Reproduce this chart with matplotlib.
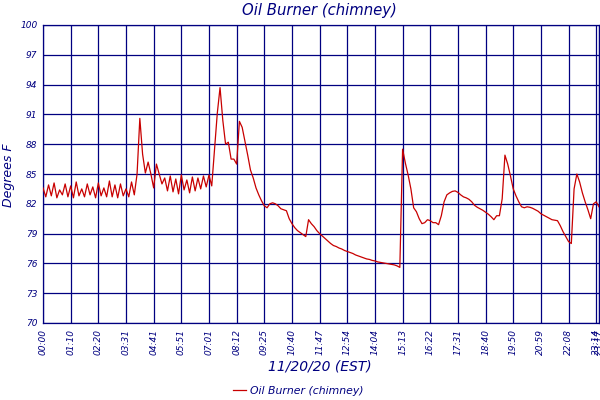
import matplotlib
matplotlib.use('Agg')
import matplotlib.pyplot as plt
import numpy as np

plt.rcParams['font.family'] = 'DejaVu Sans'
plt.rcParams['font.style'] = 'italic'

NAVY = '#000080'
RED = '#c80000'

# one reading per sample, labels every 10 samples + the last one
temps = [
    83.6, 82.7, 83.9, 82.8, 84.1, 82.6, 83.4, 82.9, 84.0, 82.7,
    83.8, 82.6, 84.2, 82.8, 83.5, 82.7, 84.0, 82.9, 83.7, 82.6,
    84.1, 82.8, 83.6, 82.7, 84.3, 82.7, 83.9, 82.6, 84.0, 82.8,
    83.5, 82.7, 84.2, 82.9,
    85.0, 90.6, 87.0, 85.1, 86.2, 85.0, 83.6, 86.0, 85.0, 84.0,
    84.6, 83.3, 84.8, 83.2, 84.5, 83.0, 84.9, 83.4, 84.4, 83.1,
    84.7, 83.3, 84.6, 83.5, 84.8, 83.7, 84.9,
    83.8, 87.4, 91.1, 93.7, 90.4, 88.0, 88.2, 86.5, 86.5, 86.0,
    90.3, 89.7, 88.3, 86.9, 85.4, 84.6, 83.6, 82.9, 82.3, 81.8,
    81.6, 82.0, 82.1, 82.0, 81.8, 81.5, 81.4, 81.3, 80.5, 80.0,
    79.6, 79.3, 79.1, 78.9, 78.7, 80.4, 80.0, 79.7, 79.3, 79.0,
    78.75, 78.5, 78.25, 78.0, 77.8, 77.7, 77.55, 77.45, 77.3, 77.2,
    77.1, 77.0, 76.85, 76.75, 76.65, 76.55, 76.45, 76.4, 76.3, 76.25,
    76.15, 76.1, 76.05, 76.0, 75.95, 75.9, 75.85, 75.75, 75.6, 87.5,
    86.1, 84.9, 83.5, 81.6, 81.2, 80.5, 80.0, 80.1, 80.4, 80.3,
    80.1, 80.1, 79.9, 80.8, 82.2, 82.9, 83.1, 83.25, 83.3, 83.15,
    82.9, 82.7, 82.6, 82.45, 82.2, 81.85, 81.65, 81.5, 81.35, 81.15,
    80.95, 80.7, 80.4, 80.8, 80.8, 82.5, 86.9, 86.0, 84.8, 83.5,
    82.8, 82.2, 81.7, 81.6, 81.7, 81.65, 81.55, 81.4, 81.25, 81.0,
    80.85, 80.7, 80.55, 80.4, 80.35, 80.3, 79.8, 79.2, 78.7, 78.2,
    78.0, 83.5, 85.0, 84.2, 83.1, 82.2, 81.4, 80.5, 82.0, 82.2, 81.7,
]

time_labels = ['00:00', '01:10', '02:20', '03:31', '04:41', '05:51', '07:01',
               '08:12', '09:25', '10:40', '11:47', '12:54', '14:04', '15:13',
               '16:22', '17:31', '18:40', '19:50', '20:59', '22:08', '23:14',
               '23:17']
y_ticks = [70, 73, 76, 79, 82, 85, 88, 91, 94, 97, 100]

x = np.arange(len(temps))
tick_pos = list(range(0, len(temps), 10)) + [len(temps) - 1]

fig = plt.figure(figsize=(6, 4), dpi=100)
fig.patch.set_facecolor('white')
ax = fig.add_axes([0.0717, 0.1925, 0.9266, 0.745])

ax.plot(x, temps, color=RED, linewidth=0.9, label='Oil Burner (chimney)', zorder=3)

ax.set_xlim(0, len(temps) - 1)
ax.set_ylim(70, 100)
ax.set_xticks(tick_pos)
ax.set_xticklabels(time_labels, rotation=90, fontsize=6.5, color=NAVY, va='top')
ax.set_yticks(y_ticks)
ax.set_yticklabels([str(v) for v in y_ticks], fontsize=6.5, color=NAVY)
ax.tick_params(length=0, pad=4)
ax.grid(True, color=NAVY, linewidth=0.9)
ax.set_axisbelow(True)
for s in ax.spines.values():
    s.set_color(NAVY)
    s.set_linewidth(0.9)

fig.text(0.532, 1 - 10 / 400, 'Oil Burner (chimney)', ha='center', va='center',
         fontsize=10.7, color=NAVY)
fig.text(0.533, 1 - 366 / 400, '11/20/20 (EST)', ha='center', va='center',
         fontsize=10, color=NAVY)
fig.text(0.0145, 1 - 175 / 400, 'Degrees F', ha='center', va='center',
         rotation=90, fontsize=9, color=NAVY)

leg = fig.legend(loc='center', bbox_to_anchor=(0.497, 1 - 390.7 / 400), frameon=False,
                 fontsize=7.8, handlelength=1.2, handletextpad=0.4)
for t in leg.get_texts():
    t.set_color(NAVY)

plt.savefig('out.png', dpi=100, facecolor='white')
plt.close()
